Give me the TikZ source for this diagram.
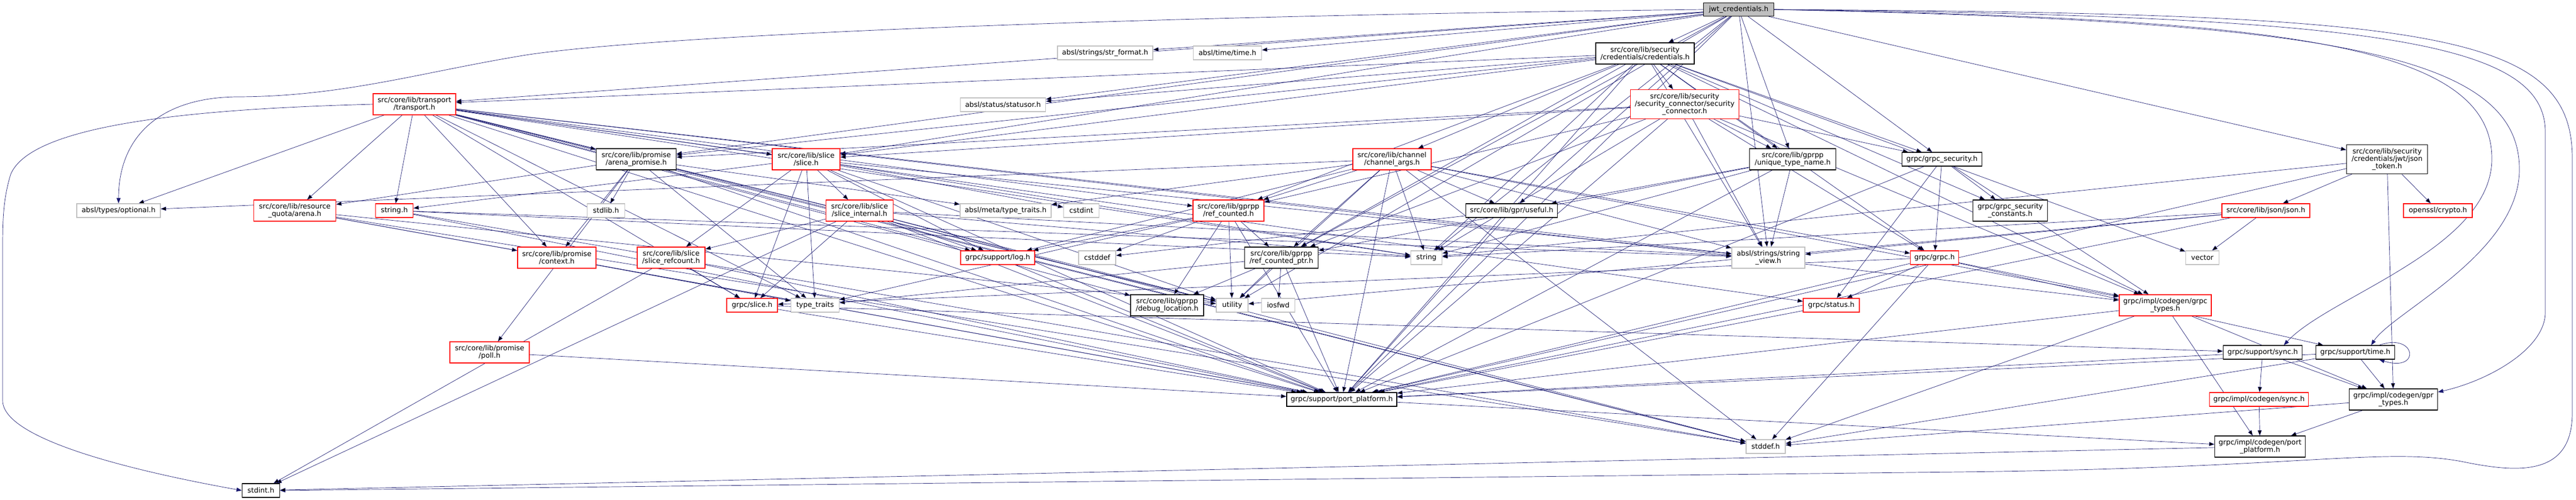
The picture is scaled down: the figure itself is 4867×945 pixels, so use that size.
\documentclass[tikz,border=0pt]{standalone}
\usepackage{fontspec}
\setmainfont{DejaVu Sans}
\usetikzlibrary{arrows.meta,backgrounds}

\definecolor{kantenblau}{HTML}{191970}
\definecolor{grauknoten}{HTML}{BFBFBF}

\tikzset{
  datei/.style={draw=black, fill=white, line width=1.3pt, inner sep=2pt,
    minimum height=26pt, align=center, font=\fontsize{13.3}{13.7}\selectfont},
  rot/.style={datei, draw=red},
  grau/.style={datei, draw=grauknoten},
  wurzel/.style={datei, fill=grauknoten},
  zwei/.style={minimum height=40pt},
  drei/.style={minimum height=55pt},
  kante/.style={draw=kantenblau, line width=0.7pt, -{Triangle[length=10pt,width=7.5pt]}},
}

\begin{document}
\begin{tikzpicture}[x=1pt,y=-1pt]

	\useasboundingbox (0,0) rectangle (4867,945);

	% Wurzel
	\node[wurzel, minimum width=133pt, minimum height=25pt] (jwt) at (3285,18) {jwt\_credentials.h};

	% Ebene 1
	\node[grau, minimum width=180pt] (strformat) at (2088,100) {absl/strings/str\_format.h};
	\node[grau, minimum width=129pt] (abtime) at (2319,100) {absl/time/time.h};
	\node[datei, zwei, minimum width=186pt] (creds) at (3108,101) {src/core/lib/security\\/credentials/credentials.h};

	% Ebene 2
	\node[rot, zwei, minimum width=156pt] (transport) at (783,197) {src/core/lib/transport\\/transport.h};
	\node[grau, minimum width=161pt] (statusor) at (1895,198) {absl/status/statusor.h};
	\node[rot, drei, minimum width=205pt] (secconn) at (3183,197) {src/core/lib/security\\/security\_connector/security\\\_connector.h};

	% Ebene 3
	\node[datei, zwei, minimum width=151pt] (arenapromise) at (1202,301) {src/core/lib/promise\\/arena\_promise.h};
	\node[rot, zwei, minimum width=128pt] (slice) at (1523,301) {src/core/lib/slice\\/slice.h};
	\node[rot, zwei, minimum width=148pt] (chanargs) at (2630,301) {src/core/lib/channel\\/channel\_args.h};
	\node[datei, zwei, minimum width=163pt] (uniqtn) at (3387,301) {src/core/lib/gprpp\\/unique\_type\_name.h};
	\node[datei, minimum width=151pt] (grpcsec) at (3669,301) {grpc/grpc\_security.h};
	\node[datei, drei, minimum width=153pt] (jsontoken) at (4510,301) {src/core/lib/security\\/credentials/jwt/json\\\_token.h};

	% Ebene 4
	\node[grau, minimum width=158pt] (optional) at (224,398) {absl/types/optional.h};
	\node[rot, zwei, minimum width=155pt] (arena) at (557,398) {src/core/lib/resource\\\_quota/arena.h};
	\node[rot, minimum width=71pt] (stringh) at (745,398) {string.h};
	\node[grau, minimum width=71pt] (stdlib) at (1145,398) {stdlib.h};
	\node[rot, zwei, minimum width=127pt] (sliceint) at (1624,398) {src/core/lib/slice\\/slice\_internal.h};
	\node[grau, minimum width=172pt] (metatt) at (1900,398) {absl/meta/type\_traits.h};
	\node[grau, minimum width=67pt] (cstdint) at (2043,398) {cstdint};
	\node[rot, zwei, minimum width=134pt] (refcounted) at (2321,398) {src/core/lib/gprpp\\/ref\_counted.h};
	\node[datei, minimum width=173pt] (useful) at (2856,398) {src/core/lib/gpr/useful.h};
	\node[datei, zwei, minimum width=141pt] (secconst) at (3798,398) {grpc/grpc\_security\\\_constants.h};
	\node[rot, minimum width=166pt] (json) at (4281,398) {src/core/lib/json/json.h};
	\node[rot, minimum width=130pt] (crypto) at (4606,398) {openssl/crypto.h};

	% Ebene 5
	\node[rot, zwei, minimum width=148pt] (context) at (1052,487) {src/core/lib/promise\\/context.h};
	\node[rot, zwei, minimum width=128pt] (slicerc) at (1268,487) {src/core/lib/slice\\/slice\_refcount.h};
	\node[rot, minimum width=140pt] (log) at (1885,487) {grpc/support/log.h};
	\node[grau, minimum width=70pt] (cstddef) at (2073,487) {cstddef};
	\node[datei, zwei, minimum width=139pt] (refptr) at (2421,487) {src/core/lib/gprpp\\/ref\_counted\_ptr.h};
	\node[grau, minimum width=59pt] (string) at (2695,487) {string};
	\node[grau, zwei, minimum width=138pt] (strview) at (3341,487) {absl/strings/string\\\_view.h};
	\node[rot, minimum width=91pt] (grpch) at (3655,487) {grpc/grpc.h};
	\node[grau, minimum width=63pt] (vector) at (4161,487) {vector};

	% Ebene 6
	\node[rot, minimum width=96pt] (grpcslice) at (1421,577) {grpc/slice.h};
	\node[grau, minimum width=91pt] (typetraits) at (1540,577) {type\_traits};
	\node[datei, zwei, minimum width=138pt] (debugloc) at (2205,577) {src/core/lib/gprpp\\/debug\_location.h};
	\node[grau, minimum width=60pt] (utility) at (2328,577) {utility};
	\node[grau, minimum width=63pt] (iosfwd) at (2415,577) {iosfwd};
	\node[rot, minimum width=106pt] (status) at (3460,577) {grpc/status.h};
	\node[rot, zwei, minimum width=174pt] (grpctypes) at (4091,577) {grpc/impl/codegen/grpc\\\_types.h};

	% Ebene 7
	\node[rot, zwei, minimum width=150pt] (poll) at (925,666) {src/core/lib/promise\\/poll.h};
	\node[datei, minimum width=149pt] (sync) at (4275,666) {grpc/support/sync.h};
	\node[datei, minimum width=149pt] (time) at (4450,666) {grpc/support/time.h};

	% Ebene 8
	\node[datei, minimum width=208pt] (portplat) at (2535,755) {grpc/support/port\_platform.h};
	\node[rot, minimum width=187pt] (implsync) at (4268,755) {grpc/impl/codegen/sync.h};
	\node[datei, zwei, minimum width=167pt] (gprtypes) at (4522,755) {grpc/impl/codegen/gpr\\\_types.h};

	% Ebene 9 und 10
	\node[grau, minimum width=74pt] (stddef) at (3336,844) {stddef.h};
	\node[datei, zwei, minimum width=171pt] (implport) at (4270,844) {grpc/impl/codegen/port\\\_platform.h};
	\node[datei, minimum width=71pt] (stdint) at (493,927) {stdint.h};

	\begin{pgfonlayer}{background}

	% Kanten der Wurzel
	\path[kante] (jwt) edge (transport) edge (arenapromise) edge (slice) edge (strformat)
		edge (abtime) edge (statusor) edge (creds) edge (uniqtn) edge (useful) edge (grpcsec)
		edge (jsontoken) edge (refptr) edge (string) edge (strview) edge (utility) edge (portplat);
	\draw[kante] (jwt.west) .. controls (2300,28) and (1300,60) .. (1000,103)
		.. controls (800,135) and (650,183) .. (446,183)
		.. controls (300,185) and (224,260) .. (optional.north);
	\draw[kante] (jwt.east) .. controls (4300,35) and (4708,80) .. (4708,300)
		.. controls (4708,470) and (4400,560) .. ([xshift=40pt]sync.north);
	\draw[kante] (jwt.east) .. controls (4400,40) and (4760,100) .. (4760,320)
		.. controls (4760,480) and (4520,590) .. ([xshift=30pt]time.north);
	\draw[kante] (jwt.east) .. controls (4500,30) and (4809,80) .. (4809,250) -- (4809,590)
		.. controls (4809,660) and (4700,720) .. ([yshift=14pt]gprtypes.east);
	\draw[kante] (jwt.east) .. controls (4600,25) and (4860,60) .. (4860,300) -- (4860,780)
		.. controls (4860,900) and (4760,895) .. (4650,872)
		.. controls (4500,845) and (4350,885) .. (3700,892) -- (stdint.east);

	% credentials.h und security_connector.h
	\path[kante] (creds) edge (transport) edge (arenapromise) edge (slice) edge (statusor)
		edge (secconn) edge (chanargs) edge (uniqtn) edge (grpcsec) edge (refcounted)
		edge (refptr) edge (string) edge (strview) edge (vector) edge (secconst)
		edge (grpch) edge (grpctypes) edge (portplat);
	\path[kante] (secconn) edge (arenapromise) edge (slice) edge (refcounted) edge (refptr)
		edge (grpcsec) edge (uniqtn) edge (strview) edge (string) edge (grpch)
		edge (grpctypes) edge (portplat);

	% transport.h
	\path[kante] (transport) edge (optional) edge (arena) edge (stringh) edge (arenapromise)
		edge (slice) edge (context) edge (refcounted) edge (portplat) edge (stddef)
		edge (grpcslice) edge (string) edge (strview) edge (utility) edge (log)
		edge (status) edge (grpctypes) edge (typetraits) edge (debugloc);
	\draw[kante] (transport.west) .. controls (400,205) and (60,230) .. (20,330)
		.. controls (5,380) and (5,420) .. (5,480) -- (5,757)
		.. controls (5,830) and (250,890) .. (stdint.west);

	% Ebene 3
	\path[kante] (arenapromise) edge (arena) edge (stdlib) edge (metatt) edge (context)
		edge (poll) edge (typetraits) edge (utility) edge (portplat) edge (stddef);
	\path[kante] (slice) edge (stringh) edge (sliceint) edge (slicerc) edge (grpcslice)
		edge (log) edge (cstdint) edge (string) edge (strview) edge (utility)
		edge (typetraits) edge (portplat);
	\path[kante] (chanargs) edge (optional) edge (metatt) edge (refcounted) edge (refptr)
		edge (useful) edge (log) edge (string) edge (strview) edge (utility)
		edge (grpctypes) edge (grpch) edge (stddef) edge (portplat);
	\path[kante] (uniqtn) edge (useful) edge (refptr) edge (strview) edge (string) edge (portplat);
	\path[kante] (grpcsec) edge (secconst) edge (grpch) edge (status) edge (grpctypes) edge (portplat);
	\path[kante] (jsontoken) edge (json) edge (crypto) edge (gprtypes) edge (portplat) edge (string);

	% Ebene 4
	\path[kante] (arena) edge (context) edge (portplat) edge (stddef) edge (utility);
	\path[kante] (stringh) edge (stddef) edge (portplat) edge (string) edge (strview);
	\path[kante] (sliceint) edge (slicerc) edge (grpcslice) edge (log) edge (string)
		edge (strview) edge (utility) edge (portplat) edge (stdint) edge (stddef);
	\path[kante] (refcounted) edge (log) edge (cstddef) edge (refptr) edge (debugloc)
		edge (typetraits) edge (utility) edge (portplat);
	\path[kante] (useful) edge (cstddef) edge (portplat);
	\path[kante] (json) edge (vector) edge (string) edge (strview) edge (portplat) edge (utility);

	% Ebene 5 und tiefer
	\path[kante] (context) edge (typetraits) edge (portplat);
	\path[kante] (slicerc) edge (grpcslice) edge (stdint) edge (portplat);
	\path[kante] (log) edge (portplat);
	\path[kante] (refptr) edge (debugloc) edge (utility) edge (iosfwd) edge (typetraits) edge (portplat);
	\path[kante] (grpch) edge (status) edge (grpctypes) edge (time) edge (stddef)
		edge (portplat) edge (grpcslice);
	\path[kante] (grpcslice) edge (sync) edge (portplat);
	\path[kante] (status) edge (portplat);
	\path[kante] (grpctypes) edge (gprtypes) edge (implport) edge (stddef) edge (portplat);
	\path[kante] (poll) edge (portplat);
	\path[kante] (sync) edge (implsync) edge (gprtypes) edge (portplat);
	\path[kante] (time) edge (gprtypes) edge (portplat) edge (stddef);
	\draw[kante] ([xshift=-30pt]time.north east) .. controls +(70,-25) and +(80,25) .. ([xshift=-30pt]time.south east);
	\path[kante] (implsync) edge (implport);
	\path[kante] (gprtypes) edge (implport) edge (stddef);
	\path[kante] (portplat) edge (implport);
	\path[kante] (implport) edge (stdint);

	\end{pgfonlayer}

\end{tikzpicture}
\end{document}
